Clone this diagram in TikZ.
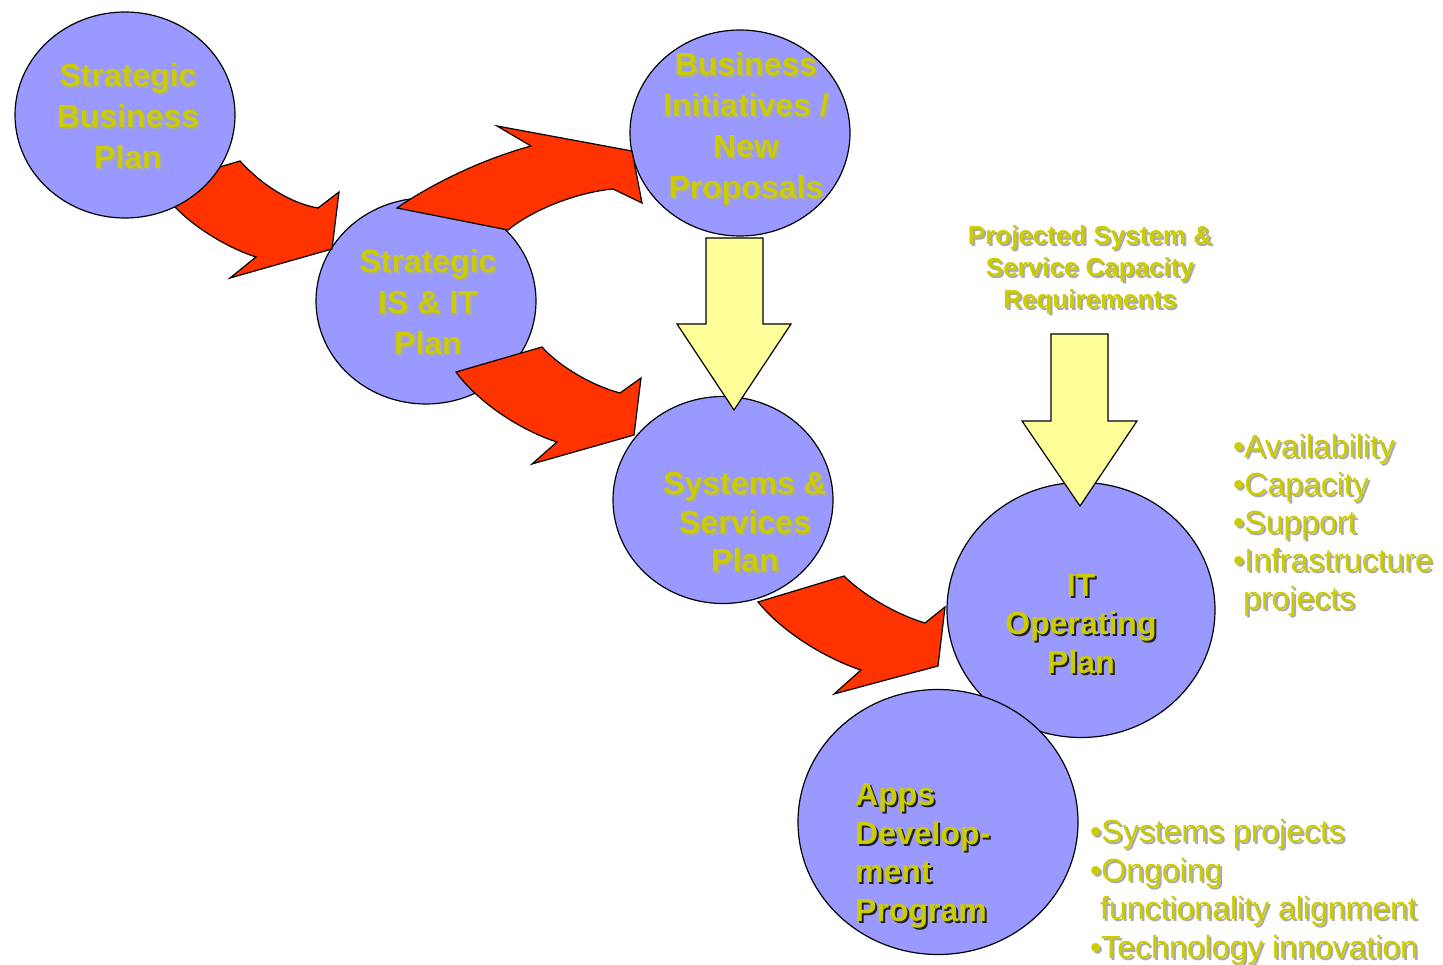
\documentclass[tikz,border=0pt]{standalone}
\usepackage{fontspec}
\setmainfont{Liberation Sans}
\usetikzlibrary{shapes.geometric}
\definecolor{ellfill}{HTML}{9999FF}
\definecolor{redarr}{HTML}{FF3300}
\definecolor{yelarr}{HTML}{FFFF99}
\definecolor{txtyel}{HTML}{CCCC00}
\definecolor{shlight}{HTML}{AAAAAA}
\definecolor{shdark}{HTML}{222222}
\newcommand\shl[1]{\makebox[0pt][l]{\kern2pt\raisebox{-2pt}{\textcolor{shlight}{#1}}}#1}
\newcommand\shk[1]{\makebox[0pt][l]{\kern2pt\raisebox{-2pt}{\textcolor{shdark}{#1}}}#1}
\tikzset{
  ell/.style={ellipse, draw=black, line width=1.2pt, fill=ellfill, inner sep=0pt},
  redar/.style={draw=black, line width=1.2pt, fill=redarr, line join=miter},
  yelar/.style={draw=black, line width=1.2pt, fill=yelarr, line join=miter},
  lbl/.style={text=txtyel, align=center, inner sep=0pt, font=\bfseries\fontsize{32}{41}\selectfont},
  lblb/.style={text=txtyel, align=center, inner sep=0pt, font=\bfseries\fontsize{32}{38.5}\selectfont},
  bul/.style={text=txtyel, align=left, inner sep=0pt, anchor=west},
}
\begin{document}
\begin{tikzpicture}[x=1pt,y=-1pt]
\useasboundingbox (0,0) rectangle (1443,965);
% ellipses (lower layer)
\node[ell, minimum width=220pt, minimum height=206pt] (sis) at (426,301) {};
\node[ell, minimum width=220pt, minimum height=206pt] (bi) at (740,133) {};
\node[ell, minimum width=220pt, minimum height=207pt] (ssp) at (723,500) {};
\node[ell, minimum width=268pt, minimum height=255pt] (itop) at (1081,610) {};
% red curved arrows
\draw[redar] (240,161) .. controls (262,185) and (290,203) .. (318,208)
  -- (339,192) -- (332,249) -- (230,278) -- (256,257)
  .. controls (228,248) and (195,228) .. (175,207) -- (206,171) -- cycle;
\draw[redar] (397,208) .. controls (430,185) and (480,160) .. (531,146)
  -- (497,126) -- (632,151) -- (642,203) -- (613,189)
  .. controls (580,192) and (535,208) .. (508,230) -- cycle;
\draw[redar] (542,347) .. controls (558,365) and (590,385) .. (620,393)
  -- (641,378) -- (634,435) -- (532,464) -- (557,442)
  .. controls (525,432) and (480,405) .. (456,372) -- cycle;
\draw[redar] (844,576) .. controls (862,594) and (895,614) .. (925,623)
  -- (945,607) -- (938,666) -- (834,694) -- (861,670)
  .. controls (830,660) and (785,635) .. (758,602) -- cycle;
% upper ellipses
\node[ell, minimum width=220pt, minimum height=206pt] (sbp) at (125,115) {};
\node[ell, minimum width=280pt, minimum height=265pt] (apps) at (938,822) {};
% yellow arrows
\draw[yelar] (706,238) -- (763,238) -- (763,324) -- (791,324) -- (734,410)
  -- (677,324) -- (706,324) -- cycle;
\draw[yelar] (1051,334) -- (1108,334) -- (1108,421) -- (1137,421) -- (1080,506)
  -- (1022,421) -- (1051,421) -- cycle;
% labels
\node[lbl] (sbpt) at (128,117) {\shl{Strategic}\\\shl{Business}\\\shl{Plan}};
\node[lbl] (sist) at (428,303) {\shl{Strategic}\\\shl{IS \& IT}\\\shl{Plan}};
\node[lbl] (bit) at (746,130) {\shl{Business}\\\shl{Initiatives /}\\\shl{New}\\\shl{Proposals}};
\node[lblb] (sspt) at (745,523) {\shl{Systems \&}\\\shl{Services}\\\shl{Plan}};
\node[lblb] (itopt) at (1081,625) {\shk{IT}\\\shk{Operating}\\\shk{Plan}};
\node[lblb, align=left, anchor=west] (appst) at (855,857) {\shk{Apps}\\\shk{Develop-}\\\shk{ment}\\\shk{Program}};
\node[text=txtyel, align=center, inner sep=0pt, font=\bfseries\fontsize{26}{32}\selectfont] (proj) at (1090,271)
  {\shl{Projected System \&}\\\shl{Service Capacity}\\\shl{Requirements}};
\node[bul, font=\fontsize{32}{38}\selectfont] (itlist) at (1233,526)
  {\shl{•Availability}\\\shl{•Capacity}\\\shl{•Support}\\\shl{•Infrastructure}\\\hspace*{10pt}\shl{projects}};
\node[bul, font=\fontsize{32}{38.5}\selectfont] (appslist) at (1090,893)
  {\shl{•Systems projects}\\\shl{•Ongoing}\\\hspace*{10pt}\shl{functionality alignment}\\\shl{•Technology innovation}};
\end{tikzpicture}
\end{document}
